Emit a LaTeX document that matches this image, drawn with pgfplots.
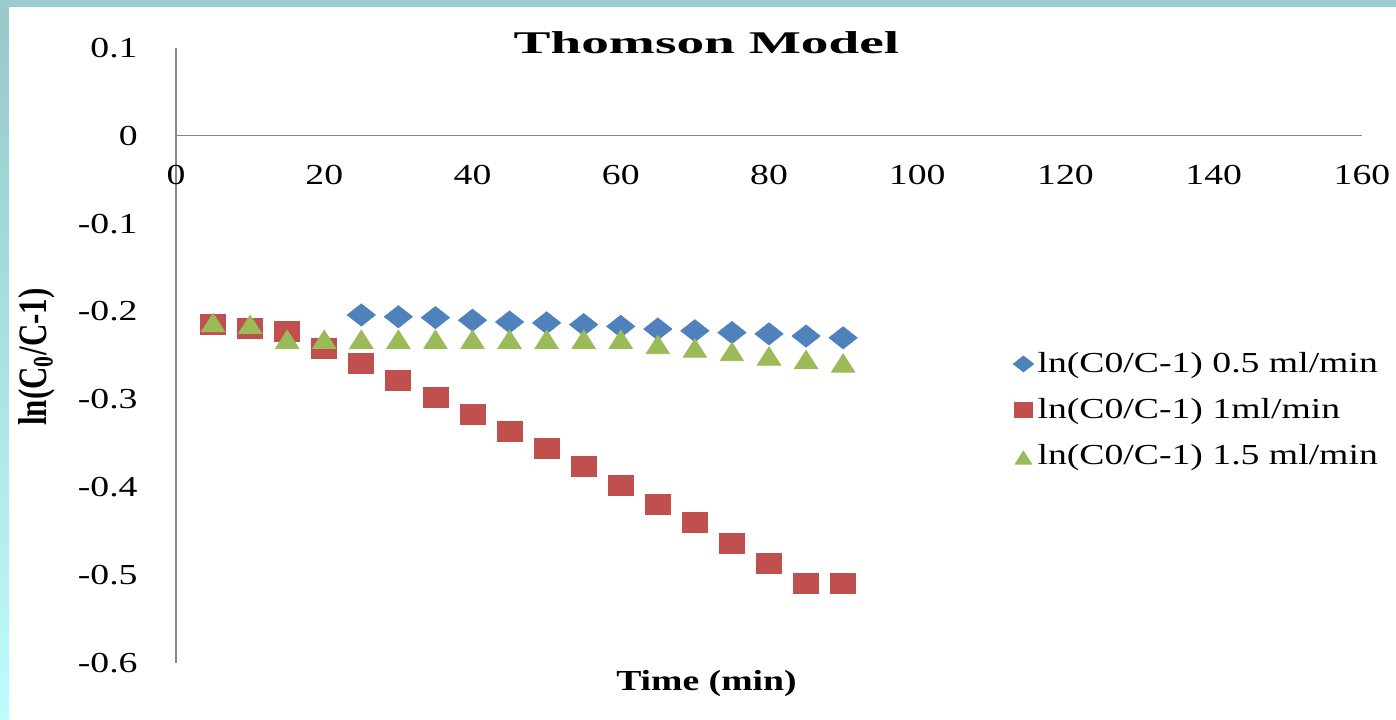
\documentclass[border=0pt]{standalone}
\usepackage{fontspec}
\setmainfont[FakeStretch=1.3]{Liberation Serif}
\newfontfamily\titlefont[FakeStretch=1.75]{Liberation Serif}
\newfontfamily\plainfont{Liberation Serif}
\usepackage{pgfplots}
\pgfplotsset{compat=1.18}
\definecolor{sblue}{RGB}{79,129,189}
\definecolor{sred}{RGB}{192,80,77}
\definecolor{sgreen}{RGB}{155,187,89}
\definecolor{axgray}{RGB}{134,134,134}
\definecolor{topteal}{RGB}{152,204,206}
\definecolor{leftteal}{RGB}{150,200,202}
\definecolor{leftcyan}{RGB}{190,252,252}
\begin{document}
\begin{tikzpicture}
\fill[white] (0,0) rectangle (698pt,359.5pt);
\shade[top color=leftteal, bottom color=leftcyan] (0,0) rectangle (4.3pt,359.5pt);
\fill[topteal] (0,356pt) rectangle (698pt,359.5pt);
\useasboundingbox (0,0) rectangle (698pt,359.5pt);
\begin{axis}[
  at={(88pt,28.15pt)}, anchor=south west,
  scale only axis, width=593pt, height=307.35pt,
  xmin=0, xmax=160, ymin=-0.6, ymax=0.1,
  axis lines*=middle,
  axis line style={draw=axgray, line width=0.6pt},
  xtick={0,20,...,160},
  ytick={-0.6,-0.5,-0.4,-0.3,-0.2,-0.1,0,0.1},
  major tick length=0pt,
  hide obscured x ticks=false, hide obscured y ticks=false,
  /pgf/number format/assume math mode=true,
  yticklabel style={anchor=east, inner sep=0pt, xshift=-19pt, font=\fontsize{14.5}{17}\selectfont},
  xticklabel style={anchor=north, inner sep=0pt, yshift=-14.5pt, font=\fontsize{14.5}{17}\selectfont},
  clip=false,
  title={Thomson Model},
  every axis title/.style={at={(axis description cs:0.4473,0.9914)}, anchor=base, font=\titlefont\bfseries\fontsize{15.8}{18}\selectfont},
  xlabel={Time (min)},
  ylabel={ln(C\textsubscript{0}/C-1)},
  every axis x label/.style={at={(axis description cs:0.4473,-0.0444)}, anchor=base, font=\bfseries\fontsize{14.5}{17}\selectfont},
  every axis y label/.style={at={(axis description cs:-0.1172,0.4973)}, xscale=1.3, rotate=90, anchor=center, font=\plainfont\bfseries\fontsize{15.5}{18}\selectfont},
  legend style={at={(axis description cs:0.7057,0.512)}, anchor=north west, draw=none, fill=none, inner sep=0pt, row sep=7.5pt, font=\fontsize{14.5}{17}\selectfont},
  legend cell align=left,
  legend image code/.code={\draw[#1,/tikz/every mark/.append style={scale=0.72}] plot coordinates {(0pt,0pt)};},
]
\addplot[only marks, mark=square*, mark size=3.9pt, mark options={draw=sblue, fill=sblue, xscale=1.27, rotate=45}] coordinates {
(25,-0.204)(30,-0.206)(35,-0.207)(40,-0.210)(45,-0.212)(50,-0.213)(55,-0.215)(60,-0.217)(65,-0.220)(70,-0.222)(75,-0.224)(80,-0.2255)(85,-0.228)(90,-0.230)};
\addlegendentry{ln(C0/C-1) 0.5 ml/min}
\addplot[only marks, mark=square*, mark size=5pt, mark options={draw=sred, fill=sred, xscale=1.25}] coordinates {
(5,-0.215)(10,-0.219)(15,-0.223)(20,-0.242)(25,-0.259)(30,-0.279)(35,-0.298)(40,-0.317)(45,-0.337)(50,-0.356)(55,-0.377)(60,-0.398)(65,-0.4195)(70,-0.440)(75,-0.464)(80,-0.487)(85,-0.510)(90,-0.510)};
\addlegendentry{ln(C0/C-1) 1ml/min}
\addplot[only marks, mark=triangle*, mark size=6.1pt, mark options={draw=sgreen, fill=sgreen, xscale=1.1, yshift=-1.83pt}] coordinates {
(5,-0.212)(10,-0.214)(15,-0.231)(20,-0.231)(25,-0.231)(30,-0.231)(35,-0.231)(40,-0.231)(45,-0.231)(50,-0.231)(55,-0.231)(60,-0.231)(65,-0.237)(70,-0.241)(75,-0.245)(80,-0.250)(85,-0.254)(90,-0.258)};
\addlegendentry{ln(C0/C-1) 1.5 ml/min}
\end{axis}
\end{tikzpicture}
\end{document}
